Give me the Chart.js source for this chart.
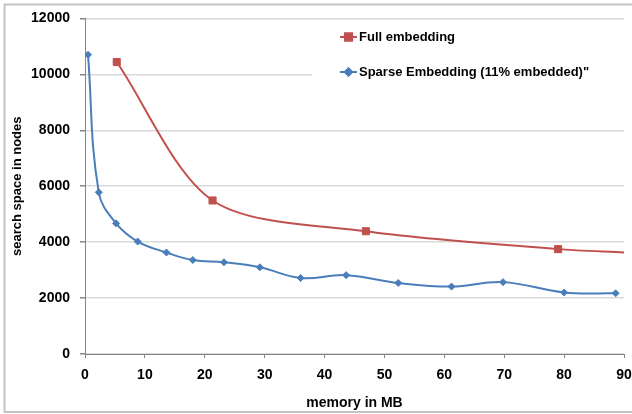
<!DOCTYPE html>
<html>
<head>
<meta charset="utf-8">
<script src="https://cdn.jsdelivr.net/npm/chart.js@4.4.1/dist/chart.umd.min.js"></script>
<style>
    html, body { margin: 0; padding: 0; background: #fff; }
    #wrap { position: relative; width: 632px; height: 414px; }
</style>
</head>
<body>
<div id="wrap"><canvas id="memChart" width="632" height="414"></canvas></div>
<script>
// Search space vs. memory, full and sparse embeddings
const fullMemory = [5.3, 21.3, 46.9, 79.0, 90];
const fullNodes = [10440, 5490, 4390, 3750, 3630];
const fullMarkers = [5, 5, 5, 5, 0]; // last point is only a line end

const sparseMemory = [0.5, 2.3, 5.2, 8.8, 13.6, 18.0, 23.2, 29.2, 36.0, 43.6, 52.3, 61.2, 69.8, 80.0, 88.6];
const sparseNodes = [10700, 5780, 4670, 4020, 3630, 3360, 3280, 3100, 2720, 2820, 2540, 2410, 2570, 2200, 2170];

const seriesLabels = ['Full embedding', 'Sparse Embedding (11% embedded)"'];

const RED = '#C0504D';
const BLUE = '#4A7EBB';
const FONT = "'Liberation Sans', Arial, sans-serif";

function toPoints(xs, ys) {
    return xs.map((x, i) => ({ x: x, y: ys[i] }));
}

// Outer frame of the chart
const framePlugin = {
    id: 'frame',
    beforeDraw(chart) {
        const ctx = chart.ctx;
        ctx.save();
        ctx.strokeStyle = '#c4c4c4';
        ctx.lineWidth = 2;
        ctx.beginPath();
        ctx.moveTo(632, 4.5);
        ctx.lineTo(4.5, 4.5);
        ctx.lineTo(4.5, 412);
        ctx.lineTo(632, 412);
        ctx.stroke();
        ctx.restore();
    }
};

// Legend box sitting inside the plot area, top right
const boxLegend = {
    id: 'boxLegend',
    afterDatasetsDraw(chart) {
        const ctx = chart.ctx;
        const area = chart.chartArea;
        const left = 312, top = 20;
        ctx.save();
        ctx.fillStyle = '#fff';
        ctx.fillRect(left, top, area.right - left, 100);
        ctx.font = 'bold 13px ' + FONT;
        ctx.textBaseline = 'middle';
        const rows = [37, 72];
        chart.data.datasets.forEach((ds, i) => {
            const y = rows[i];
            ctx.strokeStyle = ds.borderColor;
            ctx.lineWidth = 2;
            ctx.beginPath();
            ctx.moveTo(340, y);
            ctx.lineTo(357, y);
            ctx.stroke();
            Chart.helpers.drawPoint(ctx, {
                pointStyle: ds.pointStyle,
                radius: ds.pointStyle === 'rect' ? 5 : 3.5,
                rotation: 0,
                borderWidth: 1
            }, 348.5, y);
            ctx.fillStyle = ds.pointBackgroundColor;
            ctx.strokeStyle = ds.pointBorderColor;
            ctx.fill();
            ctx.stroke();
            ctx.fillStyle = '#000';
            ctx.fillText(ds.label, 359, y);
        });
        ctx.restore();
    }
};

const ctx = document.getElementById('memChart').getContext('2d');

new Chart(ctx, {
    type: 'line',
    data: {
        datasets: [
            {
                label: seriesLabels[0],
                data: toPoints(fullMemory, fullNodes),
                borderColor: RED,
                borderWidth: 2,
                pointStyle: 'rect',
                pointRadius: fullMarkers,
                pointBackgroundColor: RED,
                pointBorderColor: RED,
                pointBorderWidth: 1,
                tension: 0.3,
                fill: false
            },
            {
                label: seriesLabels[1],
                data: toPoints(sparseMemory, sparseNodes),
                borderColor: BLUE,
                borderWidth: 2,
                pointStyle: 'rectRot',
                pointRadius: 3.5,
                pointBackgroundColor: BLUE,
                pointBorderColor: BLUE,
                pointBorderWidth: 1,
                tension: 0.4,
                fill: false
            }
        ]
    },
    options: {
        responsive: false,
        animation: false,
        layout: {
            padding: { top: 17, right: 0, left: 0, bottom: 0 }
        },
        plugins: {
            legend: { display: false },
            tooltip: { enabled: false }
        },
        scales: {
            x: {
                type: 'linear',
                min: 0,
                max: 90,
                ticks: {
                    stepSize: 10,
                    color: '#000',
                    padding: 9,
                    maxRotation: 0,
                    font: { family: FONT, size: 14, weight: 'bold' }
                },
                grid: {
                    drawOnChartArea: false,
                    tickLength: 4,
                    color: '#868686',
                    tickColor: '#868686'
                },
                border: { color: '#868686', width: 1 },
                title: {
                    display: true,
                    text: 'memory in MB',
                    color: '#000',
                    padding: { top: 0, bottom: 2 },
                    font: { family: FONT, size: 14, weight: 'bold' }
                },
                afterFit(scale) {
                    scale.height = 60;
                    scale.paddingRight = 8;
                }
            },
            y: {
                min: 0,
                max: 12000,
                ticks: {
                    stepSize: 2000,
                    color: '#000',
                    padding: 10,
                    callback: (v) => String(v),
                    font: { family: FONT, size: 14, weight: 'bold' }
                },
                grid: {
                    color: '#d9d9d9',
                    lineWidth: 1.5,
                    tickLength: 5,
                    tickColor: '#868686'
                },
                border: { color: '#868686', width: 1 },
                title: {
                    display: true,
                    text: 'search space in nodes',
                    color: '#000',
                    padding: { top: 10, bottom: 0 },
                    font: { family: FONT, size: 13, weight: 'bold' }
                },
                afterFit(scale) { scale.width = 85; }
            }
        }
    },
    plugins: [framePlugin, boxLegend]
});
</script>
</body>
</html>
